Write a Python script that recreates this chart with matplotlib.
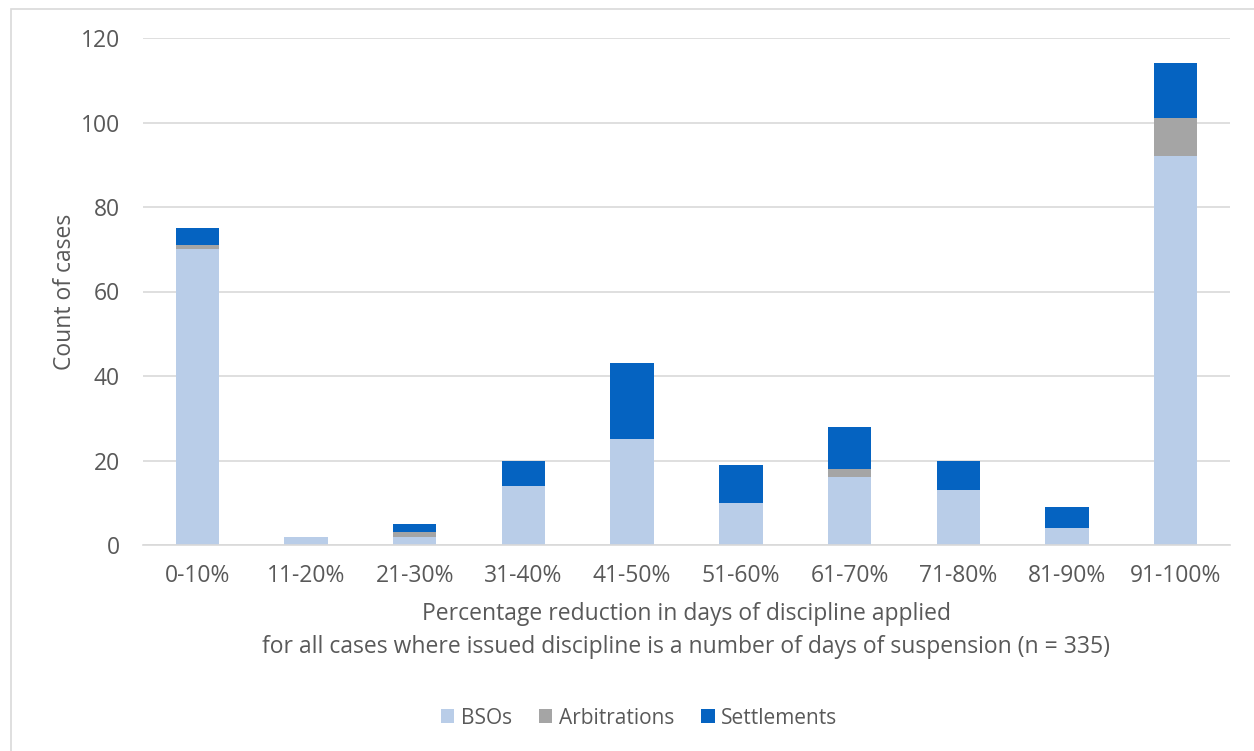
import matplotlib.pyplot as plt
import numpy as np
from matplotlib.patches import Rectangle

categories = ["0-10%", "11-20%", "21-30%", "31-40%", "41-50%",
              "51-60%", "61-70%", "71-80%", "81-90%", "91-100%"]
bsos = [70, 2, 2, 14, 25, 10, 16, 13, 4, 92]
arbitrations = [1, 0, 1, 0, 0, 0, 2, 0, 0, 9]
settlements = [4, 0, 2, 6, 18, 9, 10, 7, 5, 13]

COL_BSO = "#b9cde8"
COL_ARB = "#a5a5a5"
COL_SET = "#0563c1"
TXT = "#595959"

plt.rcParams["font.family"] = ["Open Sans", "DejaVu Sans"]

W, H = 1254, 751
fig = plt.figure(figsize=(W / 100, H / 100), dpi=100)
# light chart-area frame (runs off the right and bottom edges)
fig.patches.append(Rectangle((11 / W, -0.01), 1.2, 1 - 9 / H + 0.01, transform=fig.transFigure,
                             fill=False, edgecolor="#d9d9d9", linewidth=1.2))

ax = fig.add_axes([143 / W, 1 - 545 / H, (1230 - 143) / W, (545 - 38) / H])
x = np.arange(len(categories))
b = np.array(bsos)
a = np.array(arbitrations)
s = np.array(settlements)
ax.bar(x, b, 0.4, color=COL_BSO, label="BSOs", zorder=3)
ax.bar(x, a, 0.4, bottom=b, color=COL_ARB, label="Arbitrations", zorder=3)
ax.bar(x, s, 0.4, bottom=b + a, color=COL_SET, label="Settlements", zorder=3)

ax.set_xlim(-0.5, len(categories) - 0.5)
ax.set_ylim(0, 120)
ax.set_yticks(range(0, 121, 20))
ax.yaxis.grid(True, color="#d9d9d9", linewidth=1.2, zorder=0)
for sp in ["top", "right", "left"]:
    ax.spines[sp].set_visible(False)
ax.spines["bottom"].set_color("#d9d9d9")
ax.spines["bottom"].set_linewidth(1.2)
ax.spines["bottom"].set_zorder(4)
ax.tick_params(length=0, labelsize=16.5, labelcolor=TXT)
ax.tick_params(axis="y", pad=16.5)
ax.tick_params(axis="x", pad=14)
ax.set_xticks(x)
ax.set_xticklabels(categories)

fig.text(65 / W, 1 - 292 / H, "Count of cases", rotation=90, fontsize=16.5, color=TXT,
         ha="center", va="center")
fig.text(686 / W, 1 - 614 / H, "Percentage reduction in days of discipline applied",
         fontsize=16.5, color=TXT, ha="center", va="center")
fig.text(686 / W, 1 - 647 / H,
         "for all cases where issued discipline is a number of days of suspension (n = 335)",
         fontsize=16.5, color=TXT, ha="center", va="center")

fig.legend(loc="center", bbox_to_anchor=(639 / W, 1 - 718 / H), ncol=3, frameon=False,
           fontsize=15, labelcolor=TXT, handlelength=0.65, handleheight=0.65,
           handletextpad=0.3, columnspacing=1.3)

fig.savefig("out.png", dpi=100)
